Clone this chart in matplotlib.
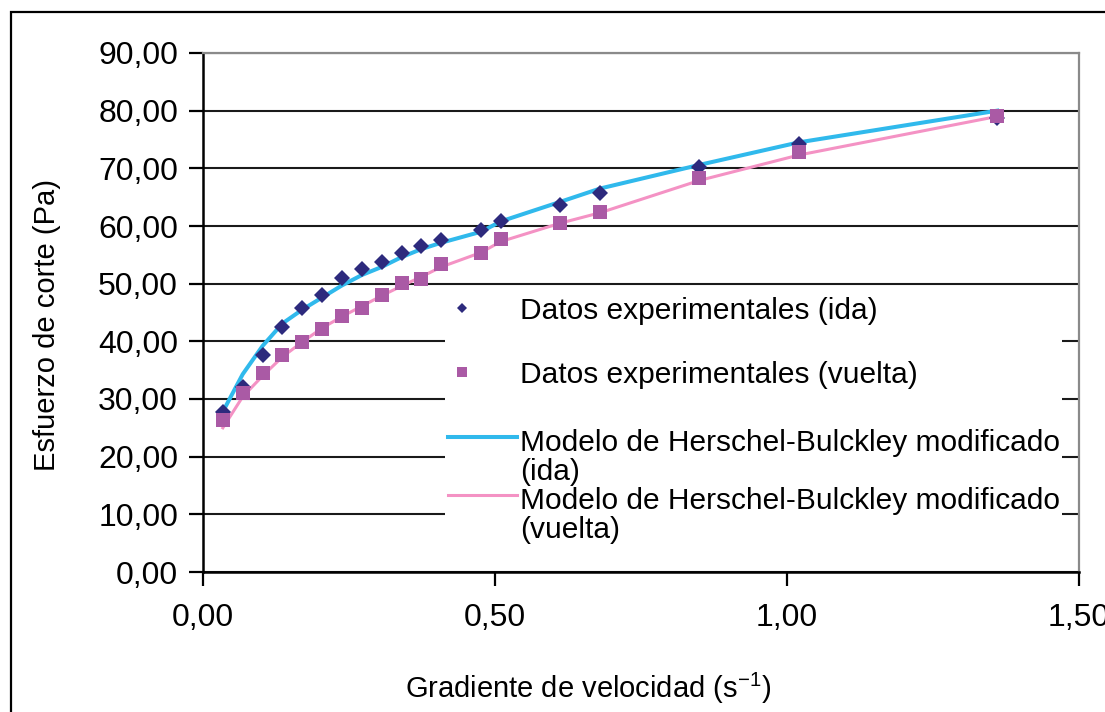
import matplotlib
matplotlib.use("Agg")

import matplotlib.pyplot as plt
from matplotlib.patches import Rectangle
from matplotlib.lines import Line2D
from matplotlib.ticker import FuncFormatter, MultipleLocator

plt.rcParams['font.family'] = ['Liberation Sans', 'DejaVu Sans']
plt.rcParams['mathtext.fontset'] = 'custom'
plt.rcParams['mathtext.rm'] = 'Liberation Sans'
plt.rcParams['mathtext.it'] = 'Liberation Sans:italic'

# shear rate (s-1)
gradiente = [0.034, 0.068, 0.102, 0.136, 0.170, 0.204, 0.238, 0.272, 0.306, 0.340,
             0.374, 0.408, 0.476, 0.510, 0.612, 0.680, 0.850, 1.020, 1.360]
# shear stress (Pa), experimental, going up / coming back
datos_ida = [27.7, 32.1, 37.7, 42.5, 45.7, 48.0, 50.9, 52.5, 53.7, 55.3,
             56.5, 57.6, 59.3, 60.8, 63.6, 65.7, 70.3, 74.3, 78.7]
datos_vuelta = [26.4, 31.0, 34.5, 37.6, 39.8, 42.1, 44.4, 45.7, 48.0, 50.1,
                50.8, 53.4, 55.3, 57.7, 60.5, 62.5, 68.4, 72.9, 79.0]
# modified Herschel-Bulkley model
modelo_ida = [27.8, 34.3, 39.2, 43.1, 45.5, 47.6, 49.7, 51.5, 52.9, 54.6,
              56.0, 57.1, 59.0, 60.8, 64.2, 66.5, 70.6, 74.5, 80.0]
modelo_vuelta = [25.0, 30.4, 34.0, 37.3, 39.9, 42.3, 44.3, 46.1, 47.9, 49.6,
                 51.2, 52.9, 55.4, 57.3, 60.5, 62.3, 67.9, 72.3, 79.0]

labels = ['Datos experimentales (ida)',
          'Datos experimentales (vuelta)',
          'Modelo de Herschel-Bulckley modificado',
          'Modelo de Herschel-Bulckley modificado']

c_ida = '#2D2A7D'
c_vuelta = '#AA5AA5'
c_mod_ida = '#30B9EC'
c_mod_vuelta = '#F492C4'

W, H = 1105, 712
fig = plt.figure(figsize=(W / 100, H / 100), dpi=100)
# axes frame in pixels: left 203, right 1079, top 53, bottom 572
ax = fig.add_axes([203 / W, 1 - 572 / H, 876 / W, 519 / H])

# outer chart border (left and top visible)
fig.patches.append(Rectangle((11 / W, -0.5), 2.0, 1.5 - 12 / H, transform=fig.transFigure,
                             fill=False, edgecolor='black', linewidth=1.6, zorder=0))

ax.plot(gradiente, modelo_ida, color=c_mod_ida, lw=2.9, zorder=3)
ax.plot(gradiente, modelo_vuelta, color=c_mod_vuelta, lw=2.2, zorder=3)
ax.plot(gradiente, datos_ida, 'D', color=c_ida, ms=8.6, mew=0, zorder=4)
ax.plot(gradiente, datos_vuelta, 's', color=c_vuelta, ms=9.4, mew=0, zorder=4)

ax.set_xlim(0, 1.5)
ax.set_ylim(0, 90)
ax.xaxis.set_major_locator(MultipleLocator(0.5))
ax.yaxis.set_major_locator(MultipleLocator(10))
fmt = FuncFormatter(lambda v, p: ('%.2f' % v).replace('.', ','))
ax.xaxis.set_major_formatter(fmt)
ax.yaxis.set_major_formatter(fmt)
ax.tick_params(axis='both', direction='out', length=10, width=1.6, color='black',
               labelsize=23)
ax.tick_params(axis='y', pad=8)
ax.tick_params(axis='x', pad=12)

ax.grid(axis='y', color='#1a1a1a', lw=1.5, zorder=1)
ax.set_axisbelow(True)
for s in ['left', 'bottom']:
    ax.spines[s].set_color('black')
    ax.spines[s].set_linewidth(1.8)
for s in ['top', 'right']:
    ax.spines[s].set_color('#8a8a8a')
    ax.spines[s].set_linewidth(1.6)

ax.set_ylabel('Esfuerzo de corte (Pa)', fontsize=21)
ax.yaxis.set_label_coords(-0.162, 0.476)
ax.set_xlabel('Gradiente de velocidad (s$^{-1}$)', fontsize=21)
ax.xaxis.set_label_coords(0.44, -0.19)

# legend, Excel style: white box over the grid, key aligned to first text line
ax.add_patch(Rectangle((0.276, 0.031), 0.705, 0.516, transform=ax.transAxes,
                       facecolor='white', edgecolor='none', zorder=5))
lfs = 21.5
tx = 0.362
ax.add_line(Line2D([0.296], [0.509], transform=ax.transAxes, marker='D', ms=5.5,
                   color=c_ida, mew=0, zorder=6))
ax.text(tx, 0.509, labels[0], transform=ax.transAxes, fontsize=lfs,
        va='center_baseline', ha='left', zorder=6)
ax.add_line(Line2D([0.296], [0.385], transform=ax.transAxes, marker='s', ms=7,
                   color=c_vuelta, mew=0, zorder=6))
ax.text(tx, 0.385, labels[1], transform=ax.transAxes, fontsize=lfs,
        va='center_baseline', ha='left', zorder=6)
ax.add_line(Line2D([0.280, 0.358], [0.260, 0.260], transform=ax.transAxes,
                   color=c_mod_ida, lw=2.9, zorder=6))
ax.text(tx, 0.254, labels[2], transform=ax.transAxes, fontsize=lfs,
        va='center_baseline', ha='left', zorder=6)
ax.text(tx, 0.198, '(ida)', transform=ax.transAxes, fontsize=lfs,
        va='center_baseline', ha='left', zorder=6)
ax.add_line(Line2D([0.280, 0.358], [0.148, 0.148], transform=ax.transAxes,
                   color=c_mod_vuelta, lw=2.2, zorder=6))
ax.text(tx, 0.143, labels[3], transform=ax.transAxes, fontsize=lfs,
        va='center_baseline', ha='left', zorder=6)
ax.text(tx, 0.087, '(vuelta)', transform=ax.transAxes, fontsize=lfs,
        va='center_baseline', ha='left', zorder=6)

fig.savefig('out.png', dpi=100)
